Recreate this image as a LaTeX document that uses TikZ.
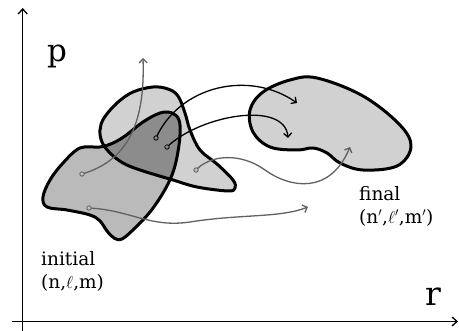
\documentclass[tikz,border=0pt]{standalone}
\usepackage{fontspec}
\setmainfont{DejaVu Serif}
\usetikzlibrary{arrows.meta}
\begin{document}
\begin{tikzpicture}[x=1pt,y=-1pt,
  blob/.style={line width=3pt,line join=round},
  blk/.style={line width=1.3pt,black,-{Straight Barb[length=4pt,width=8pt,line width=1.3pt]}},
  gry/.style={line width=1.3pt,black!62,-{Straight Barb[length=4pt,width=8pt,line width=1.3pt]}},
  dotb/.style={draw=black,line width=0.8pt,fill=black!45},
  dotg/.style={draw=black!62,line width=0.8pt,fill=black!25},
  axis/.style={line width=1.3pt,-{Straight Barb[length=5pt,width=9pt,line width=1.3pt]}},
  lbl/.style={inner sep=0pt,anchor=north west,align=left,font=\fontsize{18.5}{23}\selectfont}
]
\useasboundingbox (0,0) rectangle (459,331);
\fill[white] (0,0) rectangle (459,331);

% axes
\coordinate (xs) at (12,321.5);
\coordinate (xe) at (458,321.5);
\coordinate (ys) at (22.7,331);
\coordinate (ye) at (22.7,8);
\draw[axis] (xs) -- (xe);
\draw[axis] (ys) -- (ye);
\node[font=\fontsize{31}{31}\selectfont,inner sep=0pt] (p) at (57,56) {p};
\node[font=\fontsize{33}{33}\selectfont,inner sep=0pt] (r) at (433,297) {r};

% blob definitions
\def\blobA{plot[smooth cycle,tension=0.6] coordinates {(153,87) (168,89) (178,96) (185,113) (190,130) (200,150) (217,164) (233,180) (235,188) (228,191) (197,187) (173,180) (140,170) (123,163) (110,153) (102,142) (100,130) (104,118) (117,103) (133,92)}}
\def\blobB{plot[smooth cycle,tension=0.6] coordinates {(80,148) (100,147) (113,143) (125,136) (143,122) (160,113) (172,113) (179,120) (180,135) (177,157) (172,175) (163,193) (150,212) (135,228) (122,239) (114,238) (107,231) (100,221) (90,215) (67,210) (47,207) (43,197) (50,180) (63,163)}}
\def\blobC{plot[smooth cycle,tension=0.6] coordinates {(250,110) (263,92) (290,80) (317,78) (363,96) (400,125) (411,147) (397,166) (363,170) (340,163) (327,153) (313,148) (297,150) (270,147) (253,132)}}

\fill[black!18] \blobA;
\fill[black!27] \blobB;
\begin{scope}
  \clip \blobA;
  \fill[black!45] \blobB;
\end{scope}
\fill[black!18] \blobC;
\draw[blob] \blobA;
\draw[blob] \blobB;
\draw[blob] \blobC;

% dots and targets
\coordinate (d1) at (82,174);
\coordinate (d2) at (156,138);
\coordinate (d3) at (167,147);
\coordinate (d4) at (196,170);
\coordinate (d5) at (89,208);
\coordinate (t1) at (143,58);
\coordinate (t2) at (297,103);
\coordinate (t3) at (288,138);
\coordinate (t4) at (350,147);
\coordinate (t5) at (308,207);

\draw[gry] (d1) .. controls (130,160) and (145,120) .. (t1);
\draw[blk] (d2) .. controls (180,85) and (250,70) .. (t2);
\draw[blk] (d3) .. controls (200,115) and (285,100) .. (t3);
\draw[gry] (d4) .. controls (210,155) and (240,152) .. (265,170) .. controls (290,188) and (330,195) .. (t4);
\draw[gry] (d5) .. controls (130,210) and (150,228) .. (190,222) .. controls (240,214) and (280,218) .. (t5);

\draw[dotg] (d1) circle (2.2);
\draw[dotb] (d2) circle (2.2);
\draw[dotb] (d3) circle (2.2);
\draw[dotg] (d4) circle (2.2);
\draw[dotg] (d5) circle (2.2);

% labels
\node[lbl] (init) at (41,251) {initial\\(n,$\ell$,m)};
\node[lbl] (fin) at (359,186) {final\\(n$'$,$\ell'$,m$'$)};
\end{tikzpicture}
\end{document}
